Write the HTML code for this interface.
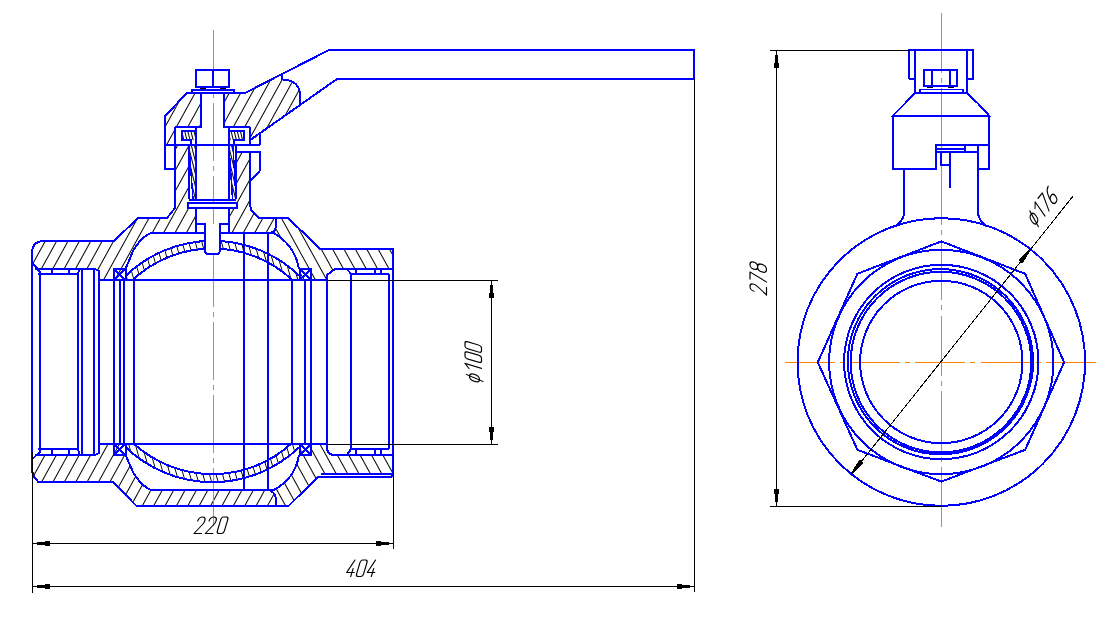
<!DOCTYPE html>
<html><head><meta charset="utf-8"><style>
html,body{margin:0;padding:0;background:#fff;width:1113px;height:620px;overflow:hidden;font-family:"Liberation Sans",sans-serif;}
svg{display:block}
</style></head><body>
<svg width="1113" height="620" viewBox="0 0 1113 620" shape-rendering="crispEdges">
<rect width="1113" height="620" fill="#fff"/>

<defs>
 <pattern id="hL" patternUnits="userSpaceOnUse" width="9.97" height="20" patternTransform="rotate(28.84) translate(5.9,0)">
   <line x1="0.5" y1="0" x2="0.5" y2="20" stroke="#000" stroke-width="1"/>
 </pattern>
 <pattern id="hL2" patternUnits="userSpaceOnUse" width="9.97" height="20" patternTransform="rotate(28.84) translate(9.2,0)">
   <line x1="0.5" y1="0" x2="0.5" y2="20" stroke="#000" stroke-width="1"/>
 </pattern>
 <pattern id="hR" patternUnits="userSpaceOnUse" width="9.97" height="20" patternTransform="rotate(-28.84) translate(1.2,0)">
   <line x1="0.5" y1="0" x2="0.5" y2="20" stroke="#000" stroke-width="1"/>
 </pattern>
 <pattern id="hR2" patternUnits="userSpaceOnUse" width="9.97" height="20" patternTransform="rotate(-28.84) translate(5.7,0)">
   <line x1="0.5" y1="0" x2="0.5" y2="20" stroke="#000" stroke-width="1"/>
 </pattern>
 <pattern id="hB" patternUnits="userSpaceOnUse" width="6.3" height="20" patternTransform="rotate(-16) translate(0.8,0)">
   <line x1="0.5" y1="0" x2="0.5" y2="20" stroke="#000" stroke-width="1"/>
 </pattern>
 <pattern id="hP" patternUnits="userSpaceOnUse" width="3" height="20" patternTransform="rotate(-14)">
   <line x1="0.5" y1="0" x2="0.5" y2="20" stroke="#000" stroke-width="1"/>
 </pattern>
 <clipPath id="cTop"><rect x="0" y="0" width="1113" height="362"/></clipPath>
 <clipPath id="cBot"><rect x="0" y="362" width="1113" height="258"/></clipPath>
</defs>

<path d="M32,251 Q33,241.5 43,241 L114,241 L138,218 L167,218 L175,208 L175,169 L165,169 L165,116 L187,93 L245,93 L282,74.5 L282,79.4 C290,80 298,82 300,92.4 L300,104.8 L251,139.5 L250,145 L236,145 L236,151.5 L250,151.5 L250,203 L252,211 L258.7,218 L276,218 L276,226 Q275.5,232 270,233 L268,233 L268,489.5 Q275,492 275.8,498 L276,505.5 L136,505.5 L113,482 L38.3,482 L32,472 Z" fill="url(#hL)" clip-path="url(#cTop)"/>
<path d="M32,251 Q33,241.5 43,241 L114,241 L138,218 L167,218 L175,208 L175,169 L165,169 L165,116 L187,93 L245,93 L282,74.5 L282,79.4 C290,80 298,82 300,92.4 L300,104.8 L251,139.5 L250,145 L236,145 L236,151.5 L250,151.5 L250,203 L252,211 L258.7,218 L276,218 L276,226 Q275.5,232 270,233 L268,233 L268,489.5 Q275,492 275.8,498 L276,505.5 L136,505.5 L113,482 L38.3,482 L32,472 Z" fill="url(#hL2)" clip-path="url(#cBot)"/>
<path d="M276,218 L288,218 L320,248.6 L393,248.6 L393,473.5 L320.5,473.5 L289,505.5 L276,505.5 L275.8,498 Q275,492 268,489.5 L268,233 L270,233 Q275.5,232 276,226 Z" fill="url(#hR)" clip-path="url(#cTop)"/>
<path d="M276,218 L288,218 L320,248.6 L393,248.6 L393,473.5 L320.5,473.5 L289,505.5 L276,505.5 L275.8,498 Q275,492 268,489.5 L268,233 L270,233 Q275.5,232 276,226 Z" fill="url(#hR2)" clip-path="url(#cBot)"/>
<path d="M201,93 L224,93 L224,127 L201,127 Z" fill="#ffffff" stroke="none"/>
<path d="M175,127 L250,127 L250,145 L175,145 Z" fill="#ffffff" stroke="none"/>
<path d="M189,145 L236,145 L236,208 L189,208 Z" fill="#ffffff" stroke="none"/>
<path d="M196,208 L229,208 L229,233 L196,233 Z" fill="#ffffff" stroke="none"/>
<path d="M165,145 L175,145 L175,169 L165,169 Z" fill="#ffffff" stroke="none"/>
<path d="M125.5,269 L133,251 C137,244 143,237.5 148,234.5 Q150,233 153,233 L274,233 C284,239 296,250 299,269 L299,455 C296,474 284,485 274,490.5 L153,490 Q150,490 148,488.5 C143,485.5 137,479 133,472 L125.5,455 Z" fill="#ffffff" stroke="none"/>
<path d="M99,280 L327,280 L327,444 L99,444 Z" fill="#ffffff" stroke="none"/>
<path d="M32,262 L37,269 L95,269 L99,271 L99,453 L95,455 L37,455 L32,461 Z" fill="#ffffff" stroke="none"/>
<path d="M327,275 L335,269 L393,269 L393,455 L335,455 L327,449 Z" fill="#ffffff" stroke="none"/>
<path d="M125.5,276 A125.2,125.2 0 0 1 299.5,276 L299.5,280 L292.4,280 A117.1,117.1 0 0 0 132.6,280 L125.5,280 Z" fill="url(#hB)" stroke="none"/>
<path d="M125.5,447 A125.2,125.2 0 0 0 299.5,447 L299.5,444 L290.9,444 A117.1,117.1 0 0 1 134.1,444 L125.5,444 Z" fill="url(#hB)" stroke="none"/>
<path d="M182,130.6 L196,130.6 L196,140 L182,140 Z" fill="url(#hP)" stroke="none"/>
<path d="M229,130.6 L244,130.6 L244,140 L229,140 Z" fill="url(#hP)" stroke="none"/>
<path d="M189,146 L196,146 L196,199 L193,199 Z" fill="url(#hP)" stroke="none"/>
<path d="M229,146 L233,146 L236,199 L232,199 Z" fill="url(#hP)" stroke="none"/>
<line x1="213.5" y1="29.7" x2="213.5" y2="526.4" stroke="#ff8000" stroke-width="1" stroke-dasharray="57.9 5.1 5 5.1"/>
<line x1="941.5" y1="12.7" x2="941.5" y2="527.2" stroke="#ff8000" stroke-width="1" stroke-dasharray="60.5 5.1 5 5.1"/>
<line x1="785.2" y1="362.5" x2="1095.5" y2="362.5" stroke="#ff8000" stroke-width="1" stroke-dasharray="49.9 5.1 5 5.1"/>
<path d="M32,471 L32,251 Q33,241.5 43,241 L114,241 L138,218 L167,218 L175,208 L175,169 L165,169 L165,116 L187,93 L245,93 L329,50 L694,50 L694,79 L337,79 L251,139.5" fill="none" stroke="#0000ff" stroke-width="2" />
<path d="M282,74.5 L282,79.4 C290,80 298,82 300,92.4 L300,104.8" fill="none" stroke="#0000ff" stroke-width="2" />
<path d="M165,145 L260,145" fill="none" stroke="#0000ff" stroke-width="2" />
<path d="M260,133 L260,145" fill="none" stroke="#0000ff" stroke-width="2" />
<path d="M250,127 L250,145" fill="none" stroke="#0000ff" stroke-width="2" />
<path d="M175,127 L201,127 L201,93" fill="none" stroke="#0000ff" stroke-width="2" />
<path d="M224,93 L224,127 L250,127" fill="none" stroke="#0000ff" stroke-width="2" />
<path d="M175,127 L175,169" fill="none" stroke="#0000ff" stroke-width="2" />
<path d="M191,145 L191,140 L182,140 L182,130.6 L196,130.6" fill="none" stroke="#0000ff" stroke-width="2" />
<path d="M234,145 L234,140 L244,140 L244,130.6 L229,130.6" fill="none" stroke="#0000ff" stroke-width="2" />
<path d="M189,146 L193,199" fill="none" stroke="#0000ff" stroke-width="1.5" />
<path d="M229,146 L232.5,199" fill="none" stroke="#0000ff" stroke-width="1.5" />
<path d="M233,146 L236,199" fill="none" stroke="#0000ff" stroke-width="1.5" />
<path d="M196,127 L196,199" fill="none" stroke="#0000ff" stroke-width="2" />
<path d="M229,127 L229,199" fill="none" stroke="#0000ff" stroke-width="2" />
<path d="M189,145 L189,199" fill="none" stroke="#0000ff" stroke-width="2" />
<path d="M236,145 L236,199" fill="none" stroke="#0000ff" stroke-width="2" />
<path d="M188.6,200 L236,200" fill="none" stroke="#0000ff" stroke-width="2" />
<path d="M187.6,203 L237,203 L237,208.3 L187.6,208.3 Z" fill="#ffffff" stroke="none"/>
<path d="M187.6,203 L237,203 L237,208.3 L187.6,208.3 Z" fill="none" stroke="#0000ff" stroke-width="2" />
<path d="M236,151.5 L260,151.5 L260,170.5 L256,175 L250,181" fill="none" stroke="#0000ff" stroke-width="2" />
<path d="M250,151.5 L250,203 Q250.5,209.5 252,211 L258.7,218 L288,218 L320,248.6 L393,248.6 L393,476" fill="none" stroke="#0000ff" stroke-width="2" />
<path d="M276,218 L276,226 Q275.5,232 270,233" fill="none" stroke="#0000ff" stroke-width="2" />
<path d="M268,233 L268,489.5 Q275,492 275.8,498 L276,505.5" fill="none" stroke="#0000ff" stroke-width="2" />
<path d="M196,70 L229,70 L229,87 L196,87 Z M213,70 L213,87" fill="none" stroke="#0000ff" stroke-width="2" />
<path d="M192,90 L234,90 L234,92.6 L192,92.6 Z" fill="none" stroke="#0000ff" stroke-width="1.6" />
<path d="M200,88.5 L206,88.5 M220,88.5 L226,88.5" stroke="#000" stroke-width="1"/>
<path d="M125.5,269 L133,251 C137,244 143,237.5 148,234.5 Q150,233 153,233 L204.6,233" fill="none" stroke="#0000ff" stroke-width="2" />
<path d="M219.9,233 L274,233 C284,239 296,250 299,269" fill="none" stroke="#0000ff" stroke-width="2" />
<path d="M125.5,455 L133,472 C137,479 143,485.5 148,488.5 Q150,490 153,490 L274,490 C284,484.5 296,474 299,455" fill="none" stroke="#0000ff" stroke-width="2" />
<path d="M32,471 L33.8,476.3 L38.3,482 L113,482 L136,505.5 L289,505.5 L318,476.8 L391,476.8 Q393,476.8 393,474" fill="none" stroke="#0000ff" stroke-width="2" />
<path d="M320.5,473.5 L393,473.5" fill="none" stroke="#0000ff" stroke-width="2" />
<path d="M125.5,276 A125.2,125.2 0 0 1 299.5,276" fill="none" stroke="#0000ff" stroke-width="2" />
<path d="M132.6,280 A117.1,117.1 0 0 1 292.4,280" fill="none" stroke="#0000ff" stroke-width="2" />
<path d="M125.5,447 A125.2,125.2 0 0 0 299.5,447" fill="none" stroke="#0000ff" stroke-width="2" />
<path d="M134.1,444 A117.1,117.1 0 0 0 290.9,444" fill="none" stroke="#0000ff" stroke-width="2" />
<path d="M204.6,224 L219.9,224 L219.9,250 Q219.9,254 216.5,254 L208,254 Q204.6,254 204.6,250 Z" fill="#ffffff" stroke="none"/>
<path d="M196,224 L204.6,224 L204.6,250 Q204.6,254 208,254 L216.5,254 Q219.9,254 219.9,250 L219.9,224 L229,224" fill="none" stroke="#0000ff" stroke-width="2" />
<path d="M196,208 L196,233" fill="none" stroke="#0000ff" stroke-width="2" />
<path d="M229,208 L229,233" fill="none" stroke="#0000ff" stroke-width="2" />
<path d="M114,269 L125.5,269 L125.5,280 L114,280 Z M114,269 L125.5,280 M125.5,269 L114,280" fill="none" stroke="#0000ff" stroke-width="2" />
<path d="M114,444 L125.5,444 L125.5,455 L114,455 Z M114,444 L125.5,455 M125.5,444 L114,455" fill="none" stroke="#0000ff" stroke-width="2" />
<path d="M299.5,269 L311,269 L311,280 L299.5,280 Z M299.5,269 L311,280 M311,269 L299.5,280" fill="none" stroke="#0000ff" stroke-width="2" />
<path d="M299.5,444 L311,444 L311,455 L299.5,455 Z M299.5,444 L311,455 M311,444 L299.5,455" fill="none" stroke="#0000ff" stroke-width="2" />
<path d="M99,280 L327,280" fill="none" stroke="#0000ff" stroke-width="2" />
<path d="M99,444 L327,444" fill="none" stroke="#0000ff" stroke-width="2" />
<path d="M114,280 L114,444" fill="none" stroke="#0000ff" stroke-width="2" />
<path d="M120,280 L120,444" fill="none" stroke="#0000ff" stroke-width="2" />
<path d="M124,280 L124,444" fill="none" stroke="#0000ff" stroke-width="2" />
<path d="M134,280 L134,444" fill="none" stroke="#0000ff" stroke-width="2" />
<path d="M291.5,280 L291.5,444" fill="none" stroke="#0000ff" stroke-width="2" />
<path d="M305,280 L305,444" fill="none" stroke="#0000ff" stroke-width="2" />
<path d="M311,280 L311,444" fill="none" stroke="#0000ff" stroke-width="2" />
<path d="M243.6,233 L243.6,490" fill="none" stroke="#0000ff" stroke-width="2" />
<path d="M35,269 L95,269 L99,271 M38,274 L78,274 M51.6,269 L51.6,274 M69,269 L69,274" fill="none" stroke="#0000ff" stroke-width="2" />
<path d="M35,455 L95,455 L99,453 M38,449 L78,449 M51.6,455 L51.6,449 M69,455 L69,449" fill="none" stroke="#0000ff" stroke-width="2" />
<path d="M32,262 L39.8,272 L39.8,452 L32,459.4" fill="none" stroke="#0000ff" stroke-width="2" />
<path d="M78,274 L78,449 M78,274 L79.5,269 M78,449 L79.5,455" fill="none" stroke="#0000ff" stroke-width="2" />
<path d="M82,269 L82,455 M82,269 L95,269 L99,271 L99,453 L95,455 L82,455" fill="none" stroke="#0000ff" stroke-width="2" />
<path d="M94,269 L94,455" fill="none" stroke="#0000ff" stroke-width="2" />
<path d="M327,449 L327,275 L335,269 L393,269" fill="none" stroke="#0000ff" stroke-width="2" />
<path d="M327,449 Q328,455 335,455 L393,455" fill="none" stroke="#0000ff" stroke-width="2" />
<path d="M347,269 L351,274 L389,274 M351,274 L351,449 M347,455 L351,449 L389,449 M389,274 L389,449" fill="none" stroke="#0000ff" stroke-width="2" />
<path d="M355.8,269 L355.8,274 M374.7,269 L374.7,274 M380.5,269 L380.5,274" fill="none" stroke="#0000ff" stroke-width="2" />
<path d="M355.8,455 L355.8,449 M374.7,455 L374.7,449 M380.5,455 L380.5,449" fill="none" stroke="#0000ff" stroke-width="2" />
<line x1="32.5" y1="452" x2="32.5" y2="592.7" stroke="#000000" stroke-width="1" />
<line x1="393.5" y1="455" x2="393.5" y2="549" stroke="#000000" stroke-width="1" />
<line x1="694.5" y1="79" x2="694.5" y2="592" stroke="#000000" stroke-width="1" />
<line x1="32.5" y1="543.5" x2="393.5" y2="543.5" stroke="#000000" stroke-width="1" />
<g transform="translate(32.5,543.5) rotate(180)"><path d="M0,-0.5 L-4.2,-0.5 L-4.2,-1.5 L-12.4,-1.5 L-12.4,-2.4 L-16.8,-2.4 L-17.4,-2.9 L-17.4,2.9 L-16.8,2.4 L-12.4,2.4 L-12.4,1.5 L-4.2,1.5 L-4.2,0.5 L0,0.5 Z" fill="#000"/></g>
<g transform="translate(393.5,543.5) rotate(0)"><path d="M0,-0.5 L-4.2,-0.5 L-4.2,-1.5 L-12.4,-1.5 L-12.4,-2.4 L-16.8,-2.4 L-17.4,-2.9 L-17.4,2.9 L-16.8,2.4 L-12.4,2.4 L-12.4,1.5 L-4.2,1.5 L-4.2,0.5 L0,0.5 Z" fill="#000"/></g>
<line x1="32.5" y1="586.5" x2="694.5" y2="586.5" stroke="#000000" stroke-width="1" />
<g transform="translate(32.5,586.5) rotate(180)"><path d="M0,-0.5 L-4.2,-0.5 L-4.2,-1.5 L-12.4,-1.5 L-12.4,-2.4 L-16.8,-2.4 L-17.4,-2.9 L-17.4,2.9 L-16.8,2.4 L-12.4,2.4 L-12.4,1.5 L-4.2,1.5 L-4.2,0.5 L0,0.5 Z" fill="#000"/></g>
<g transform="translate(694.5,586.5) rotate(0)"><path d="M0,-0.5 L-4.2,-0.5 L-4.2,-1.5 L-12.4,-1.5 L-12.4,-2.4 L-16.8,-2.4 L-17.4,-2.9 L-17.4,2.9 L-16.8,2.4 L-12.4,2.4 L-12.4,1.5 L-4.2,1.5 L-4.2,0.5 L0,0.5 Z" fill="#000"/></g>
<line x1="327" y1="280.5" x2="498" y2="280.5" stroke="#000000" stroke-width="1" />
<line x1="327" y1="444.5" x2="498" y2="444.5" stroke="#000000" stroke-width="1" />
<line x1="491.5" y1="280.5" x2="491.5" y2="444.5" stroke="#000000" stroke-width="1" />
<g transform="translate(491.5,280.5) rotate(-90)"><path d="M0,-0.5 L-4.2,-0.5 L-4.2,-1.5 L-12.4,-1.5 L-12.4,-2.4 L-16.8,-2.4 L-17.4,-2.9 L-17.4,2.9 L-16.8,2.4 L-12.4,2.4 L-12.4,1.5 L-4.2,1.5 L-4.2,0.5 L0,0.5 Z" fill="#000"/></g>
<g transform="translate(491.5,444.5) rotate(90)"><path d="M0,-0.5 L-4.2,-0.5 L-4.2,-1.5 L-12.4,-1.5 L-12.4,-2.4 L-16.8,-2.4 L-17.4,-2.9 L-17.4,2.9 L-16.8,2.4 L-12.4,2.4 L-12.4,1.5 L-4.2,1.5 L-4.2,0.5 L0,0.5 Z" fill="#000"/></g>
<g shape-rendering="auto" transform="translate(194,517) rotate(0) scale(1.0)"><path d="M0,4 Q0,0 3.5,0 Q7,0 7,4 Q7,6 5.5,8 L0,16.5 L7.5,16.5" transform="translate(0.0,0) matrix(1,0,-0.3,1,4.95,0)" fill="none" stroke="#000" stroke-width="1.2" stroke-linejoin="round" stroke-linecap="round"/><path d="M0,4 Q0,0 3.5,0 Q7,0 7,4 Q7,6 5.5,8 L0,16.5 L7.5,16.5" transform="translate(11.3,0) matrix(1,0,-0.3,1,4.95,0)" fill="none" stroke="#000" stroke-width="1.2" stroke-linejoin="round" stroke-linecap="round"/><path d="M2,0 L5,0 Q7,0 7,3 L7,13.5 Q7,16.5 5,16.5 L2,16.5 Q0,16.5 0,13.5 L0,3 Q0,0 2,0 Z" transform="translate(22.6,0) matrix(1,0,-0.3,1,4.95,0)" fill="none" stroke="#000" stroke-width="1.2" stroke-linejoin="round" stroke-linecap="round"/></g>
<g shape-rendering="auto" transform="translate(345.5,560) rotate(0) scale(1.0)"><path d="M4.5,0 L0,12.5 L7.5,12.5 M5.2,8.5 L5.2,16.5" transform="translate(0.0,0) matrix(1,0,-0.3,1,4.95,0)" fill="none" stroke="#000" stroke-width="1.2" stroke-linejoin="round" stroke-linecap="round"/><path d="M2,0 L5,0 Q7,0 7,3 L7,13.5 Q7,16.5 5,16.5 L2,16.5 Q0,16.5 0,13.5 L0,3 Q0,0 2,0 Z" transform="translate(10.3,0) matrix(1,0,-0.3,1,4.95,0)" fill="none" stroke="#000" stroke-width="1.2" stroke-linejoin="round" stroke-linecap="round"/><path d="M4.5,0 L0,12.5 L7.5,12.5 M5.2,8.5 L5.2,16.5" transform="translate(20.6,0) matrix(1,0,-0.3,1,4.95,0)" fill="none" stroke="#000" stroke-width="1.2" stroke-linejoin="round" stroke-linecap="round"/></g>
<g shape-rendering="auto" transform="translate(465,383.5) rotate(-90) scale(1.0)"><path d="M3.5,4.5 Q7,4.5 7,9.5 Q7,14.5 3.5,14.5 Q0,14.5 0,9.5 Q0,4.5 3.5,4.5 Z M4.5,1.5 L2.5,18" transform="translate(0.0,0) matrix(1,0,-0.3,1,4.95,0)" fill="none" stroke="#000" stroke-width="1.2" stroke-linejoin="round" stroke-linecap="round"/><path d="M1,4 L5,0 L5,16.5" transform="translate(10.2,0) matrix(1,0,-0.3,1,4.95,0)" fill="none" stroke="#000" stroke-width="1.2" stroke-linejoin="round" stroke-linecap="round"/><path d="M2,0 L5,0 Q7,0 7,3 L7,13.5 Q7,16.5 5,16.5 L2,16.5 Q0,16.5 0,13.5 L0,3 Q0,0 2,0 Z" transform="translate(20.4,0) matrix(1,0,-0.3,1,4.95,0)" fill="none" stroke="#000" stroke-width="1.2" stroke-linejoin="round" stroke-linecap="round"/><path d="M2,0 L5,0 Q7,0 7,3 L7,13.5 Q7,16.5 5,16.5 L2,16.5 Q0,16.5 0,13.5 L0,3 Q0,0 2,0 Z" transform="translate(30.599999999999998,0) matrix(1,0,-0.3,1,4.95,0)" fill="none" stroke="#000" stroke-width="1.2" stroke-linejoin="round" stroke-linecap="round"/></g>
<circle cx="941.3" cy="362" r="143.8" fill="none" stroke="#0000ff" stroke-width="2"/>
<polygon points="941.3,241.4 1025.2,273.8 1064.1,362.3 1025.2,449.8 941.3,481.6 857.4,449.8 817.8,362.3 857.4,273.8" fill="none" stroke="#0000ff" stroke-width="2"/>
<circle cx="941.3" cy="362" r="112.2" fill="none" stroke="#0000ff" stroke-width="2"/>
<circle cx="941.3" cy="362" r="97.2" fill="none" stroke="#0000ff" stroke-width="2"/>
<circle cx="940.5" cy="361.7" r="92.6" fill="none" stroke="#0000ff" stroke-width="2"/>
<circle cx="941.0" cy="362.1" r="90.3" fill="none" stroke="#0000ff" stroke-width="2"/>
<circle cx="941.3" cy="362" r="81.2" fill="none" stroke="#0000ff" stroke-width="2"/>
<path d="M908.8,79.3 L908.8,50.2 L973.3,50.2 L973.3,79.3 L966.6,79.3 M908.8,79.3 L914.9,79.3" fill="none" stroke="#0000ff" stroke-width="2" />
<path d="M914.9,50.2 L914.9,92.6 M966.6,50.2 L966.6,92.6" fill="none" stroke="#0000ff" stroke-width="2" />
<path d="M924,70 L957,70 L957,86.2 L924,86.2 Z M931.8,70 L931.8,86.2 M949.7,70 L949.7,86.2" fill="none" stroke="#0000ff" stroke-width="2" />
<path d="M920.2,89.5 L962.8,89.5 L962.8,92.4 L920.2,92.4 Z" fill="none" stroke="#0000ff" stroke-width="1.6" />
<path d="M927,87.7 L933,87.7 M948,87.7 L954,87.7" stroke="#000" stroke-width="1"/>
<path d="M915,92.6 L966.6,92.6 L978,103.5 L989,115.5 L893,115.5 L905,103.5 Z" fill="none" stroke="#0000ff" stroke-width="2" />
<path d="M893,115.5 L893,169 L935.5,169 L935.5,144.7 L989,144.7 M989,115.5 L989,169 L978.2,169 L978.2,144.7" fill="none" stroke="#0000ff" stroke-width="2" />
<path d="M935.5,148.6 L964.7,148.6 M935.5,152.4 L978.2,152.4 M964.7,144.7 L964.7,152.4" fill="none" stroke="#0000ff" stroke-width="2" />
<path d="M941,152.4 L941,165 L949.7,165" fill="none" stroke="#0000ff" stroke-width="2" />
<path d="M949.7,152.4 L949.7,187.8" fill="none" stroke="#0000ff" stroke-width="2" />
<path d="M904,169 L904,214.5 Q903,220 895.4,226.5" fill="none" stroke="#0000ff" stroke-width="2" />
<path d="M978.2,169 L978.2,214.5 Q979,220 986.2,226.5" fill="none" stroke="#0000ff" stroke-width="2" />
<line x1="770" y1="50.5" x2="909" y2="50.5" stroke="#000000" stroke-width="1" />
<line x1="770" y1="506.5" x2="941" y2="506.5" stroke="#000000" stroke-width="1" />
<line x1="776.5" y1="50.5" x2="776.5" y2="506.5" stroke="#000000" stroke-width="1" />
<g transform="translate(776.5,50.5) rotate(-90)"><path d="M0,-0.5 L-4.2,-0.5 L-4.2,-1.5 L-12.4,-1.5 L-12.4,-2.4 L-16.8,-2.4 L-17.4,-2.9 L-17.4,2.9 L-16.8,2.4 L-12.4,2.4 L-12.4,1.5 L-4.2,1.5 L-4.2,0.5 L0,0.5 Z" fill="#000"/></g>
<g transform="translate(776.5,506.5) rotate(90)"><path d="M0,-0.5 L-4.2,-0.5 L-4.2,-1.5 L-12.4,-1.5 L-12.4,-2.4 L-16.8,-2.4 L-17.4,-2.9 L-17.4,2.9 L-16.8,2.4 L-12.4,2.4 L-12.4,1.5 L-4.2,1.5 L-4.2,0.5 L0,0.5 Z" fill="#000"/></g>
<g shape-rendering="auto" transform="translate(750,295) rotate(-90) scale(1.0)"><path d="M0,4 Q0,0 3.5,0 Q7,0 7,4 Q7,6 5.5,8 L0,16.5 L7.5,16.5" transform="translate(0,0) matrix(1,0,-0.3,1,4.95,0)" fill="none" stroke="#000" stroke-width="1.2" stroke-linejoin="round" stroke-linecap="round"/><path d="M0,0 L7,0 L2,16.5" transform="translate(11,0) matrix(1,0,-0.3,1,4.95,0)" fill="none" stroke="#000" stroke-width="1.2" stroke-linejoin="round" stroke-linecap="round"/><path d="M3.5,0 Q7,0 7,3.8 Q7,7.6 3.5,7.6 Q0,7.6 0,3.8 Q0,0 3.5,0 Z M3.5,7.6 Q7.3,7.6 7.3,12 Q7.3,16.5 3.5,16.5 Q-0.3,16.5 -0.3,12 Q-0.3,7.6 3.5,7.6 Z" transform="translate(22,0) matrix(1,0,-0.3,1,4.95,0)" fill="none" stroke="#000" stroke-width="1.2" stroke-linejoin="round" stroke-linecap="round"/></g>
<line x1="851.6" y1="473.7" x2="1072.7" y2="196.5" stroke="#000000" stroke-width="1" />
<g transform="translate(1030.3,249.4) rotate(-51.42347043655657)"><path d="M0.5,0 L-1,-1 L-16,-2.7 L-16,2.7 L-1,1 Z" fill="#000"/></g>
<g transform="translate(851.6,473.7) rotate(128.57652956344344)"><path d="M0.5,0 L-1,-1 L-16,-2.7 L-16,2.7 L-1,1 Z" fill="#000"/></g>
<g shape-rendering="auto" transform="translate(1023.02,217.09) rotate(-51.42347043655657) scale(1.0)"><path d="M3.5,4.5 Q7,4.5 7,9.5 Q7,14.5 3.5,14.5 Q0,14.5 0,9.5 Q0,4.5 3.5,4.5 Z M4.5,1.5 L2.5,18" transform="translate(0.0,0) matrix(1,0,-0.3,1,4.95,0)" fill="none" stroke="#000" stroke-width="1.2" stroke-linejoin="round" stroke-linecap="round"/><path d="M1,4 L5,0 L5,16.5" transform="translate(9.5,0) matrix(1,0,-0.3,1,4.95,0)" fill="none" stroke="#000" stroke-width="1.2" stroke-linejoin="round" stroke-linecap="round"/><path d="M0,0 L7,0 L2,16.5" transform="translate(19.0,0) matrix(1,0,-0.3,1,4.95,0)" fill="none" stroke="#000" stroke-width="1.2" stroke-linejoin="round" stroke-linecap="round"/><path d="M6.5,0.5 Q3,1 1.5,5 Q0,9 0,12 Q0,16.5 3.5,16.5 Q7,16.5 7,12.5 Q7,8.5 3.5,8.5 Q0.5,8.5 0,11.5" transform="translate(28.5,0) matrix(1,0,-0.3,1,4.95,0)" fill="none" stroke="#000" stroke-width="1.2" stroke-linejoin="round" stroke-linecap="round"/></g>
</svg>
</body></html>
